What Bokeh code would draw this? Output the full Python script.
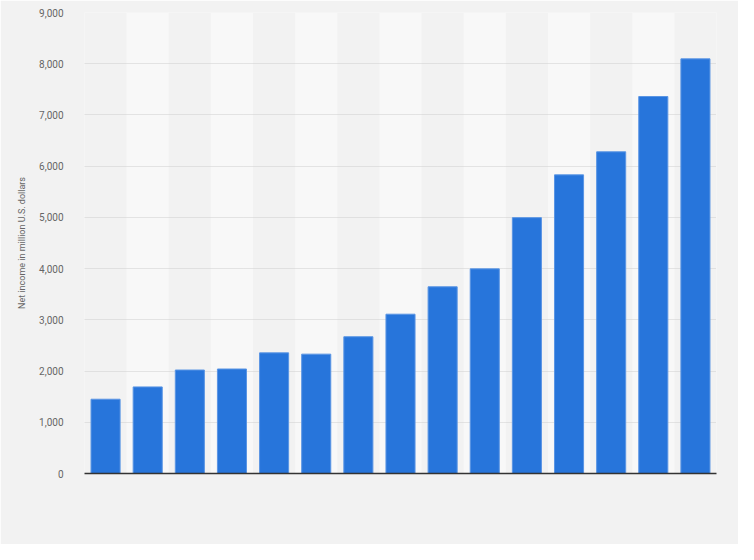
from bokeh.plotting import figure
from bokeh.models import FixedTicker, NumeralTickFormatter, ColumnDataSource, FactorRange
from bokeh.embed import file_html
from bokeh.resources import INLINE

years = [str(y) for y in range(2008, 2023)]
net_income = [1450, 1690, 2020, 2040, 2355, 2330, 2670, 3110, 3645, 3995, 4995, 5830, 6280, 7360, 8095]
y_ticks = [0, 1000, 2000, 3000, 4000, 5000, 6000, 7000, 8000, 9000]
y_label = "Net income in million U.S. dollars"

BG = "#f2f2f2"
BAND = "#f8f8f8"
BAR = "#2775db"

p = figure(
    width=738, height=544,
    x_range=FactorRange(factors=years, range_padding=0),
    y_range=(0, 9000),
    output_backend="svg", toolbar_location=None,
    min_border_left=84, min_border_right=22, min_border_top=12, min_border_bottom=71,
)
p.background_fill_color = BG
p.border_fill_color = BG
p.outline_line_color = None

# alternating background bands
band_x = [y for i, y in enumerate(years) if i % 2 == 1]
band_top = [9000] * len(band_x)
bands = p.vbar(x=band_x, top=band_top, width=1.0, fill_color=BAND, line_color=None)
bands.level = "image"

src = ColumnDataSource(dict(x=years, top=net_income))
p.vbar(x="x", top="top", source=src, width=0.69, fill_color=BAR,
       line_color="#5a95e4", line_width=1)

# y axis
p.yaxis.ticker = FixedTicker(ticks=y_ticks)
p.yaxis.formatter = NumeralTickFormatter(format="0,0")
p.yaxis.axis_line_color = None
p.yaxis.major_tick_line_color = None
p.yaxis.minor_tick_line_color = None
p.yaxis.major_label_text_font = "Roboto"
p.yaxis.major_label_text_font_size = "10px"
p.yaxis.major_label_text_color = "#666666"
p.yaxis.major_label_standoff = 15
p.yaxis.axis_label = y_label
p.yaxis.axis_label_text_font = "Roboto"
p.yaxis.axis_label_text_font_size = "9px"
p.yaxis.axis_label_text_font_style = "normal"
p.yaxis.axis_label_text_color = "#666666"
p.yaxis.axis_label_standoff = 9

# x axis: baseline only, no visible labels
p.xaxis.axis_line_color = "#333333"
p.xaxis.axis_line_width = 1.5
p.xaxis.major_tick_line_color = None
p.xaxis.minor_tick_line_color = None
p.xaxis.major_label_text_font_size = "0px"
p.xaxis.major_label_text_alpha = 0

# grid
p.xgrid.grid_line_color = None
p.ygrid.ticker = FixedTicker(ticks=y_ticks[1:])
p.ygrid.grid_line_color = "#cfcfcf"
p.ygrid.grid_line_dash = "1 1"
p.ygrid.grid_line_width = 1

html = file_html(p, INLINE)
html = html.replace("<body>", '<body style="background:#f2f2f2;">', 1)
open("out.html", "w").write(html)
